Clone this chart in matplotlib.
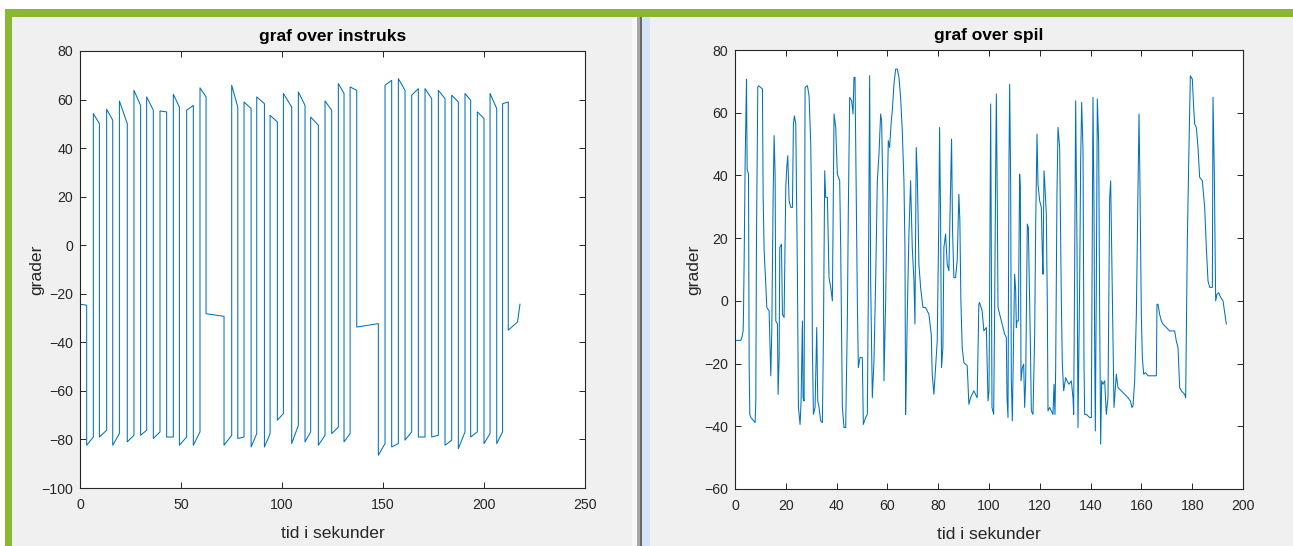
import matplotlib
matplotlib.use("Agg")
import matplotlib.pyplot as plt
from matplotlib.patches import Rectangle

# ---------------- data: "graf over instruks" ----------------
# breakpoints (s) of consecutive segments, and the value at the start / end of each segment
inst_edges = [0, 3.3, 6.6, 9.6, 13.2, 16.2, 19.5, 23.4, 26.7, 30.0,
              33.0, 36.3, 39.6, 42.9, 46.2, 49.2, 52.8, 56.1, 59.4, 62.4,
              71.3, 75.1, 78.1, 81.2, 84.7, 87.5, 91.3, 94.1, 97.7, 100.7,
              104.8, 108.1, 111.4, 114.2, 118.0, 121.3, 124.6, 127.9, 130.7, 133.7,
              137.0, 147.7, 151.0, 154.3, 157.6, 160.9, 164.2, 167.5, 170.8, 174.1,
              177.4, 180.7, 184.0, 187.3, 190.6, 193.4, 196.7, 200.0, 203.0, 206.3,
              209.2, 212.0, 216.6, 217.8]
inst_start = [-24.3, -82.4, 54.2, -79.0, 56.0, -82.4, 59.4, -81.0, 63.8, -78.3,
              61.1, -79.6, 55.3, -79.0, 62.2, -82.4, 55.6, -82.4, 64.8, -28.2,
              -82.4, 65.9, -79.6, 59.0, -83.1, 61.1, -83.1, 53.5, -72.1, 62.5,
              -81.7, 63.1, -81.0, 52.8, -82.4, 59.4, -77.6, 66.6, -81.0, 65.2,
              -33.7, -86.5, 65.9, -83.1, 68.6, -80.3, 61.8, -79.0, 64.5, -79.0,
              63.8, -82.4, 61.8, -83.8, 62.5, -79.0, 54.9, -81.7, 62.5, -81.7,
              58.3, -35.0, -31.6]
inst_end = [-24.7, -79.0, 50.1, -76.2, 51.5, -77.6, 50.1, -78.3, 57.6, -76.2,
            55.6, -76.9, 54.9, -79.0, 56.9, -79.0, 57.6, -76.9, 61.1, -29.3,
            -78.3, 56.9, -79.0, 56.3, -77.6, 58.3, -77.6, 50.8, -69.3, 56.9,
            -74.2, 57.6, -76.9, 49.4, -78.3, 55.6, -74.9, 62.5, -77.6, 63.8,
            -32.3, -81.7, 67.9, -81.7, 63.8, -76.9, 64.5, -79.0, 60.4, -78.3,
            60.4, -80.3, 59.0, -76.9, 59.7, -76.9, 52.2, -77.6, 56.3, -76.9,
            59.0, -31.6, -24.3]

# ---------------- data: "graf over spil" ----------------
spil_t = [0, 2.29, 2.69, 3.21, 3.34, 3.60, 4.00, 4.52, 4.78, 5.31,
          5.57, 5.83, 6.23, 7.93, 8.19, 8.45, 8.98, 9.24, 10.81, 11.07,
          11.47, 12.12, 12.52, 13.43, 14.09, 14.48, 15.01, 15.40, 15.79, 16.06,
          16.71, 16.97, 17.37, 17.63, 18.28, 18.68, 19.33, 19.99, 20.38, 20.77,
          21.30, 21.95, 22.61, 23.00, 23.39, 23.92, 24.57, 24.97, 25.62, 26.02,
          26.54, 26.80, 27.20, 27.59, 28.51, 29.16, 29.82, 30.21, 30.47, 30.87,
          31.52, 32.18, 32.57, 33.09, 33.75, 34.40, 34.80, 35.32, 35.71, 36.37,
          37.02, 37.68, 38.34, 38.99, 39.65, 40.30, 41.22, 41.61, 42.27, 42.92,
          43.58, 44.23, 44.63, 45.15, 45.94, 46.46, 46.85, 47.25, 47.77, 48.17,
          48.56, 49.21, 50.13, 50.52, 51.44, 52.10, 52.49, 53.01, 53.41, 54.06,
          54.72, 55.37, 56.03, 56.68, 57.34, 57.73, 58.26, 58.65, 59.31, 59.70,
          60.35, 60.88, 61.53, 61.93, 62.58, 63.24, 63.89, 64.55, 65.20, 65.86,
          66.51, 66.91, 67.17, 67.43, 67.82, 68.48, 69.13, 69.79, 70.45, 70.84,
          71.36, 71.76, 72.41, 73.07, 73.99, 75.03, 76.34, 77.26, 77.65, 78.31,
          78.96, 79.62, 80.28, 80.54, 80.93, 81.32, 81.85, 82.24, 82.90, 83.55,
          84.21, 84.86, 85.26, 85.65, 86.17, 86.83, 87.48, 88.14, 88.53, 88.93,
          89.45, 90.11, 91.42, 92.07, 92.73, 94.04, 95.35, 96.00, 96.26, 97.31,
          97.97, 98.95, 99.61, 100.0, 100.26, 100.66, 101.18, 101.84, 102.23, 102.62,
          102.89, 103.28, 103.54, 104.20, 104.86, 105.51, 106.17, 106.82, 107.09, 107.48,
          107.87, 108.14, 108.53, 108.79, 109.19, 109.71, 110.10, 110.50, 110.76, 111.02,
          111.55, 112.07, 112.34, 112.60, 113.12, 113.65, 114.04, 114.44, 114.70, 115.09,
          115.49, 115.88, 116.27, 116.67, 117.32, 117.98, 118.37, 118.90, 119.29, 119.95,
          120.60, 121.00, 121.26, 121.65, 122.05, 122.57, 122.97, 123.23, 123.88, 124.54,
          125.20, 125.59, 125.98, 126.25, 126.77, 127.17, 127.82, 128.48, 128.87, 129.40,
          130.18, 130.71, 131.50, 132.41, 133.07, 133.33, 133.73, 134.12, 134.65, 135.04,
          135.70, 136.09, 136.48, 137.01, 137.40, 137.66, 138.32, 139.63, 140.29, 140.55,
          140.94, 141.34, 141.60, 141.86, 142.26, 142.65, 143.18, 143.57, 143.96, 144.36,
          144.88, 145.54, 146.19, 146.85, 147.51, 147.90, 148.29, 148.82, 149.21, 149.74,
          150.13, 150.79, 152.10, 153.41, 154.72, 155.64, 156.30, 156.69, 157.35, 158.01,
          158.66, 159.06, 159.45, 159.97, 160.37, 160.89, 161.68, 162.60, 163.91, 165.88,
          166.14, 166.54, 167.19, 167.85, 168.50, 169.82, 171.13, 173.10, 173.75, 174.41,
          175.07, 175.72, 177.03, 177.43, 177.69, 178.08, 178.61, 179.27, 180.05, 180.58,
          180.97, 181.63, 182.28, 182.94, 183.99, 184.91, 185.56, 186.22, 186.88, 187.93,
          188.19, 188.71, 189.24, 189.76, 190.42, 191.21, 192.13, 192.91, 193.44]
spil_v = [-12.6, -12.6, -11.7, -9.6, -4.3, 12.8, 44.7, 70.7, 42.0, 40.4,
          -20.2, -36.2, -37.2, -38.8, -31.9, 19.1, 68.1, 68.6, 67.6, 34.0,
          16.0, 5.3, -2.1, -3.2, -23.9, -9.6, 33.0, 52.7, 40.4, -6.4,
          -7.4, -29.8, -18.1, 17.0, 18.1, -4.3, -5.3, 36.2, 42.6, 46.3,
          31.9, 29.8, 29.8, 56.4, 59.0, 56.4, 8.5, -34.0, -39.4, -31.9,
          -6.4, -30.9, -31.9, 68.1, 68.6, 65.4, 50.0, 25.5, -14.9, -36.2,
          -34.0, -8.5, -31.9, -34.0, -38.3, -38.8, -12.8, 41.5, 33.0, 33.0,
          7.4, 4.3, 0.0, 59.6, 55.3, 40.4, 38.3, 17.0, -34.0, -40.4,
          -40.4, -6.4, 29.8, 64.9, 63.8, 59.6, 71.3, 71.3, 29.8, 0.0,
          -21.3, -18.1, -18.1, -39.4, -37.2, -36.2, 2.1, 71.8, 6.4, -30.9,
          -19.1, 6.4, 38.3, 46.8, 59.6, 57.4, 33.0, -25.5, 0.0, 21.3,
          51.1, 48.9, 57.4, 60.6, 69.1, 73.9, 73.9, 71.3, 64.9, 54.3,
          38.3, 17.0, -36.2, -25.5, -4.3, 21.3, 38.3, 17.0, 6.4, -7.4,
          48.9, 40.4, 11.7, 4.3, -2.1, -2.1, -4.3, -10.6, -23.4, -29.8,
          -21.3, -12.8, 28.7, 55.3, 27.7, -21.3, -14.9, 17.0, 21.3, 11.7,
          9.6, 35.1, 51.6, 22.3, 7.4, 7.4, 12.8, 34.0, 25.5, 0.0,
          -14.9, -19.7, -20.7, -33.0, -30.9, -28.7, -30.9, -1.1, -0.5, -3.2,
          -9.6, -8.5, -31.9, -28.7, 4.3, 62.8, -34.0, -36.2, -2.1, 41.5,
          66.0, 29.8, -2.1, -4.3, -6.4, -8.5, -10.6, -11.7, -30.9, -37.2,
          44.7, 69.1, 37.2, -25.5, -38.3, -9.6, 8.5, 3.2, -8.5, -6.4,
          -6.4, 40.4, 36.2, -25.5, -21.3, -20.2, -34.0, -25.5, -4.3, 24.5,
          23.4, 5.3, -12.8, -35.1, -36.2, -10.6, 23.4, 53.2, 37.2, 31.9,
          29.8, 14.9, 8.5, 41.5, 36.2, 27.7, -2.1, -35.1, -34.0, -35.1,
          -36.2, -26.6, -36.2, -21.3, 35.1, 55.3, 48.9, 0.0, -20.2, -28.7,
          -24.5, -25.5, -26.6, -25.5, -30.9, -36.2, 11.7, 63.8, 17.0, -40.4,
          6.4, 44.7, 63.3, 47.9, -20.2, -36.2, -36.2, -37.2, -37.2, 4.3,
          64.9, 29.8, -14.9, -41.5, 6.4, 64.4, 50.0, -4.3, -45.7, -25.5,
          -26.6, -25.5, -36.2, -30.9, 33.0, 38.3, 17.0, -10.6, -34.0, -27.7,
          -23.4, -27.7, -28.7, -29.8, -30.9, -31.9, -34.0, -33.5, -25.5, -4.3,
          36.2, 59.6, 36.2, -4.3, -18.1, -23.4, -22.9, -23.9, -23.9, -23.9,
          -1.1, -1.1, -4.3, -6.4, -7.4, -8.5, -9.6, -9.6, -12.8, -14.9,
          -27.7, -28.7, -29.8, -30.9, -9.6, 19.1, 43.6, 71.8, 70.7, 61.7,
          56.4, 55.3, 48.9, 39.4, 38.3, 29.8, 17.0, 6.4, 4.3, 4.3,
          64.9, 40.4, 0.0, 2.1, 2.6, 1.1, 0.0, -4.3, -7.4]

inst_xticks = [0, 50, 100, 150, 200, 250]
inst_yticks = [-100, -80, -60, -40, -20, 0, 20, 40, 60, 80]
spil_xticks = [0, 20, 40, 60, 80, 100, 120, 140, 160, 180, 200]
spil_yticks = [-60, -40, -20, 0, 20, 40, 60, 80]

# ---------------- figure ----------------
W, H = 1293, 546
plt.rcParams["font.family"] = ["Liberation Sans", "DejaVu Sans"]
fig = plt.figure(figsize=(W / 100, H / 100), dpi=100)
fig.patch.set_facecolor("white")


def rect(x0, y0, x1, y1, color):
    fig.add_artist(Rectangle((x0 / W, 1 - y1 / H), (x1 - x0) / W, (y1 - y0) / H,
                             transform=fig.transFigure, facecolor=color,
                             edgecolor="none", zorder=0))


rect(12, 17, 637, H, "#f0f0f0")
rect(650, 17, W, H, "#f0f0f0")
rect(632, 17, 637, H, "#f8f8f8")
rect(637, 17, 640, H, "#a8a8a8")
rect(640, 17, 642, H, "#686868")
rect(642, 17, 650, H, "#d6e4f3")
rect(5, 9, W, 17, "#8bb733")
rect(5, 9, 12, H, "#8bb733")

line_color = "#0072BD"
ax_color = "#262626"


def style(ax, xlim, ylim, xticks, yticks, title):
    ax.set_facecolor("white")
    ax.set_xlim(*xlim)
    ax.set_ylim(*ylim)
    ax.set_xticks(xticks)
    ax.set_yticks(yticks)
    ax.tick_params(direction="in", length=4.5, width=0.7, colors=ax_color,
                   labelsize=10.2, top=True, right=True, pad=5)
    ax.tick_params(axis="x", pad=7)
    for s in ax.spines.values():
        s.set_color(ax_color)
        s.set_linewidth(0.8)
    ax.set_title(title, fontsize=12.5, fontweight="bold", color="black", pad=7)
    ax.set_xlabel("tid i sekunder", fontsize=12.6, color=ax_color)
    ax.set_ylabel("grader", fontsize=12.6, color=ax_color)


# left
axL = fig.add_axes([80 / W, 1 - 488 / H, 505 / W, 437 / H])
xs, ys = [], []
for i, (a, b) in enumerate(zip(inst_start, inst_end)):
    xs += [inst_edges[i], inst_edges[i + 1]]
    ys += [a, b]
axL.plot(xs, ys, color=line_color, lw=0.75)
style(axL, (0, 250), (-100, 80), inst_xticks, inst_yticks, "graf over instruks")
axL.xaxis.set_label_coords(0.5, -0.086)
axL.yaxis.set_label_coords(-0.071, 0.5)

# right
axR = fig.add_axes([735 / W, 1 - 489 / H, 508 / W, 439 / H])
axR.plot(spil_t, spil_v, color=line_color, lw=0.75)
style(axR, (0, 200), (-60, 80), spil_xticks, spil_yticks, "graf over spil")
axR.xaxis.set_label_coords(0.5, -0.086)
axR.yaxis.set_label_coords(-0.066, 0.5)

fig.savefig("out.png", dpi=100, facecolor=fig.get_facecolor())
